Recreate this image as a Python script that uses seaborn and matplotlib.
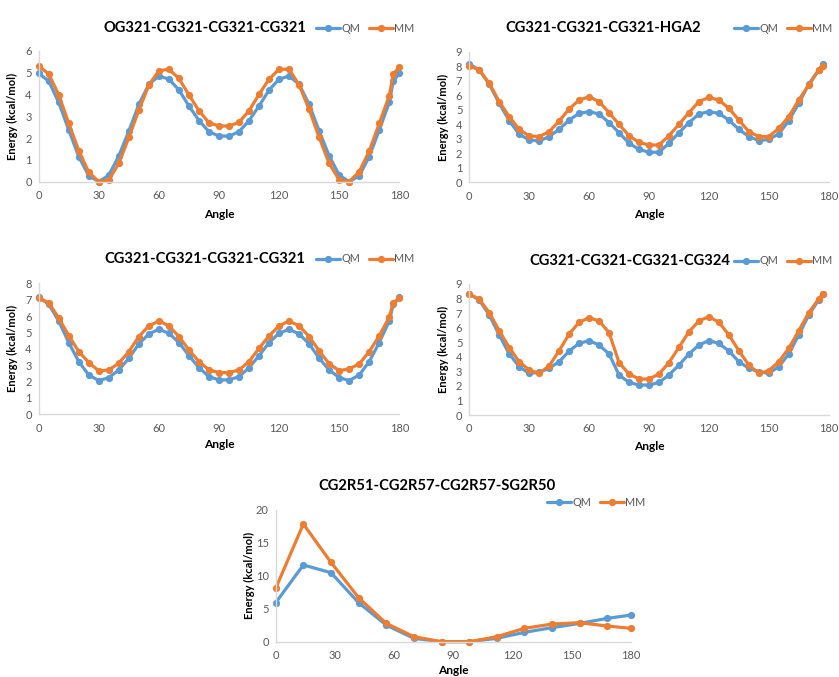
import numpy as np
import pandas as pd
import matplotlib
matplotlib.use("Agg")
import matplotlib.pyplot as plt
from matplotlib.lines import Line2D
import seaborn as sns

sns.set_theme(style="white")
plt.rcParams["font.family"] = ["Lato", "DejaVu Sans"]

W, H = 839, 677

QM_COLOR = "#5B9BD5"
MM_COLOR = "#ED7D31"
TEXT_GRAY = "#595959"
AXIS_GRAY = "#D9D9D9"

# ---- torsion scans (angle in degrees, energy in kcal/mol) ----
angles_full = list(range(0, 180, 5)) + [177, 180]
angles_short = list(range(0, 180, 5)) + [177]
angles_ring = [0, 14, 28, 42, 56, 70, 84, 98, 112, 126, 140, 154, 168, 180]

og_title = "OG321-CG321-CG321-CG321"
og_qm = [4.96, 4.61, 3.63, 2.37, 1.15, 0.27, 0.0, 0.30, 1.18, 2.32, 3.54, 4.46,
         4.84, 4.70, 4.20, 3.47, 2.80, 2.29, 2.09, 2.09, 2.29, 2.80, 3.47, 4.20,
         4.70, 4.84, 4.46, 3.54, 2.32, 1.18, 0.30, 0.0, 0.27, 1.15, 2.37, 3.63,
         4.61, 4.96]
og_mm = [5.30, 4.93, 3.98, 2.67, 1.42, 0.43, 0.0, 0.08, 0.84, 2.03, 3.28, 4.43,
         5.08, 5.15, 4.73, 3.97, 3.25, 2.70, 2.55, 2.55, 2.72, 3.25, 4.00, 4.70,
         5.15, 5.15, 4.43, 3.31, 2.03, 0.84, 0.08, 0.0, 0.46, 1.40, 2.67, 3.94,
         4.92, 5.27]

hga_title = "CG321-CG321-CG321-HGA2"
hga_qm = [8.15, 7.74, 6.75, 5.44, 4.25, 3.31, 2.92, 2.85, 3.15, 3.65, 4.29, 4.75,
          4.87, 4.71, 4.11, 3.42, 2.69, 2.27, 2.07, 2.07, 2.69, 3.42, 4.11, 4.71,
          4.87, 4.75, 4.29, 3.65, 3.15, 2.87, 2.96, 3.33, 4.25, 5.44, 6.75, 7.74,
          8.15]
hga_mm = [8.03, 7.74, 6.82, 5.56, 4.52, 3.65, 3.19, 3.15, 3.49, 4.22, 5.05, 5.67,
          5.90, 5.56, 4.80, 3.99, 3.21, 2.75, 2.57, 2.57, 3.21, 3.99, 4.80, 5.56,
          5.85, 5.67, 5.10, 4.29, 3.49, 3.15, 3.15, 3.72, 4.52, 5.67, 6.70, 7.74,
          8.03]

cc_title = "CG321-CG321-CG321-CG321"
cc_qm = [7.15, 6.72, 5.70, 4.38, 3.22, 2.40, 2.06, 2.24, 2.71, 3.42, 4.30, 4.91,
         5.19, 4.95, 4.38, 3.58, 2.85, 2.30, 2.10, 2.10, 2.30, 2.85, 3.58, 4.38,
         4.95, 5.19, 4.91, 4.30, 3.42, 2.71, 2.24, 2.06, 2.40, 3.22, 4.38, 5.70,
         6.72, 7.15]
cc_mm = [7.09, 6.82, 5.87, 4.81, 3.83, 3.16, 2.65, 2.71, 3.12, 3.83, 4.75, 5.40,
         5.70, 5.40, 4.75, 3.93, 3.22, 2.71, 2.55, 2.55, 2.71, 3.22, 4.03, 4.79,
         5.40, 5.70, 5.40, 4.75, 3.87, 3.08, 2.67, 2.77, 3.08, 3.83, 4.79, 5.93,
         6.82, 7.09]

c4_title = "CG321-CG321-CG321-CG324"
c4_qm = [8.31, 7.90, 6.87, 5.50, 4.19, 3.32, 2.86, 2.93, 3.21, 3.66, 4.40, 4.92,
         5.11, 4.81, 4.19, 2.75, 2.24, 2.06, 2.06, 2.24, 2.75, 3.43, 4.19, 4.81,
         5.11, 4.92, 4.40, 3.66, 3.21, 2.98, 2.86, 3.32, 4.19, 5.50, 6.87, 7.90,
         8.31]
c4_mm = [8.31, 7.95, 7.03, 5.79, 4.63, 3.66, 3.09, 2.86, 3.37, 4.42, 5.56, 6.37,
         6.69, 6.46, 5.66, 3.60, 2.82, 2.47, 2.47, 2.82, 3.60, 4.65, 5.72, 6.46,
         6.76, 6.37, 5.50, 4.42, 3.43, 2.86, 3.05, 3.66, 4.58, 5.79, 7.03, 7.97,
         8.31]

ring_title = "CG2R51-CG2R57-CG2R57-SG2R50"
ring_qm = [5.92, 11.65, 10.48, 5.92, 2.53, 0.51, 0.0, 0.0, 0.51, 1.42, 2.13,
           2.78, 3.54, 4.05]
ring_mm = [8.10, 17.87, 12.05, 6.68, 2.78, 0.76, 0.0, 0.0, 0.76, 2.03, 2.68,
           2.89, 2.38, 2.03]

x_ticks = [0, 30, 60, 90, 120, 150, 180]
method_labels = ["QM", "MM"]

LW = 2.3
MS = 5.2

fig = plt.figure(figsize=(W / 100, H / 100), dpi=100)
fig.patch.set_facecolor("white")


def fx(px):
    return px / W


def fy(py):
    return 1 - py / H


def panel(angles, qm, mm, title, left, right, top, bottom, ymax, ystep,
          title_xy, legend_xy, xlabel_y):
    ax = fig.add_axes([fx(left), fy(bottom), fx(right - left), (bottom - top) / H])
    df = pd.DataFrame({
        "Angle": list(angles) * 2,
        "Energy": list(qm) + list(mm),
        "Method": [method_labels[0]] * len(qm) + [method_labels[1]] * len(mm),
    })
    sns.lineplot(data=df, x="Angle", y="Energy", hue="Method",
                 palette={"QM": QM_COLOR, "MM": MM_COLOR},
                 hue_order=method_labels, marker="o", markersize=MS,
                 markeredgewidth=0, linewidth=LW, estimator=None, sort=False,
                 legend=False, ax=ax)
    for ln in ax.lines:
        ln.set_clip_on(False)
    ax.set_xlim(0, 180)
    ax.set_ylim(0, ymax)
    ax.set_xticks(x_ticks)
    ax.set_yticks(np.arange(0, ymax + 0.01, ystep))
    ax.tick_params(length=0, labelsize=8, labelcolor=TEXT_GRAY)
    ax.tick_params(axis="x", pad=6)
    ax.tick_params(axis="y", pad=5)
    for side in ["top", "right"]:
        ax.spines[side].set_visible(False)
    for side in ["left", "bottom"]:
        ax.spines[side].set_color(AXIS_GRAY)
        ax.spines[side].set_linewidth(1.0)
    ax.set_facecolor("none")
    ax.set_xlabel("")
    ax.set_ylabel("")
    fig.text(fx(title_xy[0]), fy(title_xy[1]), title, ha="center", va="center",
             fontsize=10.6, fontweight="bold", color="black")
    fig.text(fx(left - 26), fy((top + bottom) / 2), "Energy (kcal/mol)",
             rotation=90, ha="center", va="center", fontsize=8,
             fontweight="bold", color="black")
    fig.text(fx((left + right) / 2), fy(xlabel_y), "Angle", ha="center",
             va="center", fontsize=8.6, fontweight="bold", color="black")
    handles = [Line2D([], [], color=QM_COLOR, marker="o", markersize=MS,
                      markeredgewidth=0, linewidth=LW),
               Line2D([], [], color=MM_COLOR, marker="o", markersize=MS,
                      markeredgewidth=0, linewidth=LW)]
    leg = fig.legend(handles, method_labels, loc="center left",
                     bbox_to_anchor=(fx(legend_xy[0]), fy(legend_xy[1])),
                     ncol=2, frameon=False, fontsize=7.8, handlelength=2.2,
                     handletextpad=0.15, columnspacing=0.8, borderpad=0,
                     borderaxespad=0)
    for t in leg.get_texts():
        t.set_color(TEXT_GRAY)
    return ax


panel(angles_full, og_qm, og_mm, og_title, 38.7, 399.3, 50.7, 181.7, 6, 1,
      (205, 28), (316, 28), 214)
panel(angles_short, hga_qm, hga_mm, hga_title, 469.3, 828.7, 51.7, 182.3, 9, 1,
      (603, 28), (734, 28), 215)
panel(angles_full, cc_qm, cc_mm, cc_title, 38.7, 399.3, 283.3, 414.3, 8, 1,
      (205, 259), (316, 259), 445)
panel(angles_short, c4_qm, c4_mm, c4_title, 469.3, 828.7, 284.0, 415.0, 9, 1,
      (630, 261), (734, 261), 446)
panel(angles_ring, ring_qm, ring_mm, ring_title, 275.7, 631.0, 510.0, 641.7, 20, 5,
      (437, 486), (547, 502), 671)

fig.savefig("out.png", dpi=100, facecolor="white")
